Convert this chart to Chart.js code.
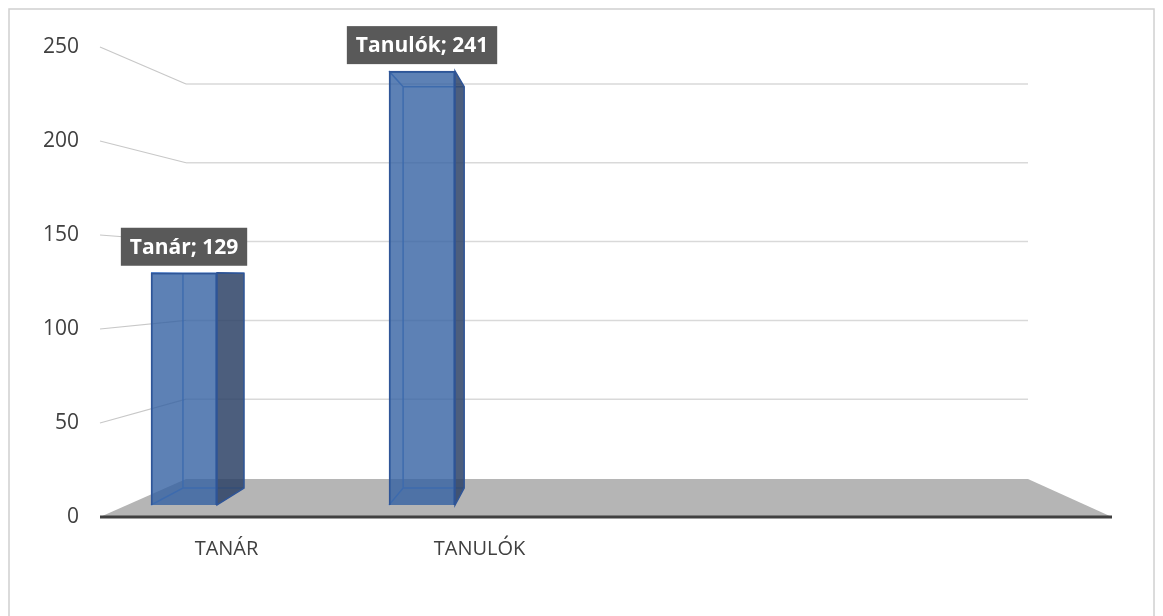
<!DOCTYPE html>
<html>
<head>
<meta charset="utf-8">
<script src="https://cdn.jsdelivr.net/npm/chart.js@4.4.1/dist/chart.umd.min.js"></script>
<style>
  html, body { margin: 0; padding: 0; background: #fff; }
  #wrap { width: 1163px; height: 616px; }
</style>
</head>
<body>
<div id="wrap"><canvas id="chart"></canvas></div>
<script>
const categories = ['Tanár', 'Tanulók'];
const values = [129, 241];
const yTicks = [0, 50, 100, 150, 200, 250];
// the plot floor has room for four slots, only two are used
const axisSlots = ['TANÁR', 'TANULÓK', '', ''];

// perspective: back plane is the front plane pulled toward this point
const VP = { x: 577, y: 279 };
const DEPTH = 0.925;

function toBack(x, y) {
    return [VP.x + DEPTH * (x - VP.x), VP.y + DEPTH * (y - VP.y)];
}

const decoPlugin = {
    id: 'deco',
    beforeDraw(chart) {
        const ctx = chart.ctx;
        ctx.save();
        ctx.strokeStyle = '#d0d0d0';
        ctx.lineWidth = 1.5;
        ctx.strokeRect(9, 9, 1145, 640);
        ctx.restore();
    },
    beforeDatasetsDraw(chart) {
        const ctx = chart.ctx;
        const area = chart.chartArea;
        const y = chart.scales.y;
        const yBack = chart.scales.yBack;
        const backL = area.left + 86;
        const backR = area.right - 84;

        ctx.save();
        // back wall grid + connectors to the front axis
        yTicks.forEach(function (v) {
            if (v === 0) return;
            const yb = yBack.getPixelForValue(v);
            const yf = y.getPixelForValue(v);
            ctx.strokeStyle = '#c8c8c8';
            ctx.lineWidth = 1.2;
            ctx.beginPath();
            ctx.moveTo(area.left, yf);
            ctx.lineTo(backL, yb);
            ctx.stroke();
            ctx.strokeStyle = '#d9d9d9';
            ctx.lineWidth = 1.5;
            ctx.beginPath();
            ctx.moveTo(backL, yb);
            ctx.lineTo(backR, yb);
            ctx.stroke();
        });

        // floor
        const y0 = y.getPixelForValue(0);
        const yb0 = yBack.getPixelForValue(0) + 1;
        ctx.fillStyle = '#b5b5b5';
        ctx.beginPath();
        ctx.moveTo(area.left, y0);
        ctx.lineTo(backL, yb0);
        ctx.lineTo(backR, yb0);
        ctx.lineTo(area.right, y0);
        ctx.closePath();
        ctx.fill();
        ctx.strokeStyle = '#404040';
        ctx.lineWidth = 3;
        ctx.beginPath();
        ctx.moveTo(area.left, y0);
        ctx.lineTo(area.right, y0);
        ctx.stroke();

        // hidden back edges of the boxes, seen through the front face
        const meta = chart.getDatasetMeta(0);
        meta.data.forEach(function (el) {
            const l = el.x - el.width / 2, r = el.x + el.width / 2;
            const t = el.y, b = el.base;
            const bl = toBack(l, b), br = toBack(r, b), tl = toBack(l, t), tr = toBack(r, t);
            ctx.strokeStyle = 'rgba(90,140,215,0.95)';
            ctx.lineWidth = 1.5;
            ctx.beginPath();
            ctx.moveTo(l, b); ctx.lineTo(bl[0], bl[1]);
            ctx.lineTo(br[0], br[1]);
            ctx.moveTo(bl[0], bl[1]); ctx.lineTo(tl[0], tl[1]);
            ctx.lineTo(tr[0], tr[1]);
            ctx.moveTo(l, t); ctx.lineTo(tl[0], tl[1]);
            ctx.stroke();
        });
        ctx.restore();
    },
    afterDatasetsDraw(chart) {
        const ctx = chart.ctx;
        const meta = chart.getDatasetMeta(0);
        ctx.save();
        meta.data.forEach(function (el, i) {
            const r = el.x + el.width / 2;
            const t = el.y, b = el.base;
            const tr = toBack(r, t), br = toBack(r, b);
            // right side face
            ctx.fillStyle = 'rgba(45,66,102,0.85)';
            ctx.strokeStyle = '#2f5597';
            ctx.lineWidth = 1.5;
            ctx.beginPath();
            ctx.moveTo(r, t);
            ctx.lineTo(tr[0], tr[1]);
            ctx.lineTo(br[0], br[1]);
            ctx.lineTo(r, b);
            ctx.closePath();
            ctx.fill();
            ctx.stroke();

            // data label
            const text = categories[i] + '; ' + values[i];
            ctx.font = 'bold 21px "Open Sans"';
            const w = ctx.measureText(text).width + 18;
            const h = 38;
            const bottom = t - 7;
            ctx.fillStyle = '#595959';
            ctx.fillRect(el.x - w / 2, bottom - h, w, h);
            ctx.fillStyle = '#ffffff';
            ctx.textAlign = 'center';
            ctx.textBaseline = 'middle';
            ctx.fillText(text, el.x, bottom - h / 2 + 1);
        });
        ctx.restore();
    }
};

const ctx = document.getElementById('chart').getContext('2d');
const chart = new Chart(ctx, {
    type: 'bar',
    data: {
        datasets: [{
            label: 'Létszám',
            data: values.map(function (v, i) { return { x: i, y: v }; }),
            xAxisID: 'xBar',
            yAxisID: 'yBar',
            backgroundColor: 'rgba(52,98,163,0.8)',
            borderColor: '#2f5597',
            borderWidth: 1.5,
            barThickness: 66
        }]
    },
    options: {
        responsive: true,
        maintainAspectRatio: false,
        animation: false,
        layout: { padding: { left: 0, top: 47, right: 51, bottom: 0 } },
        plugins: {
            legend: { display: false },
            tooltip: { enabled: false }
        },
        scales: {
            x: {
                type: 'category',
                labels: axisSlots,
                offset: true,
                position: 'bottom',
                grid: { display: false },
                border: { display: false },
                ticks: {
                    padding: 12,
                    maxRotation: 0,
                    autoSkip: false,
                    color: '#404040',
                    font: { family: 'Open Sans', size: 20 }
                },
                afterFit: function (scale) { scale.height = 99; }
            },
            xBar: {
                type: 'linear',
                display: false,
                offset: false,
                min: -0.353,
                max: 3.899
            },
            y: {
                min: 0,
                max: 250,
                grid: { display: false },
                border: { display: false },
                ticks: {
                    stepSize: 50,
                    padding: 13,
                    color: '#404040',
                    font: { family: 'Open Sans', size: 21 }
                },
                afterFit: function (scale) { scale.width = 100; }
            },
            yBar: {
                display: false,
                min: -6.67,
                max: 254.4
            },
            yBack: {
                display: false,
                min: -24.75,
                max: 273.45
            }
        }
    },
    plugins: [decoPlugin]
});
</script>
</body>
</html>
